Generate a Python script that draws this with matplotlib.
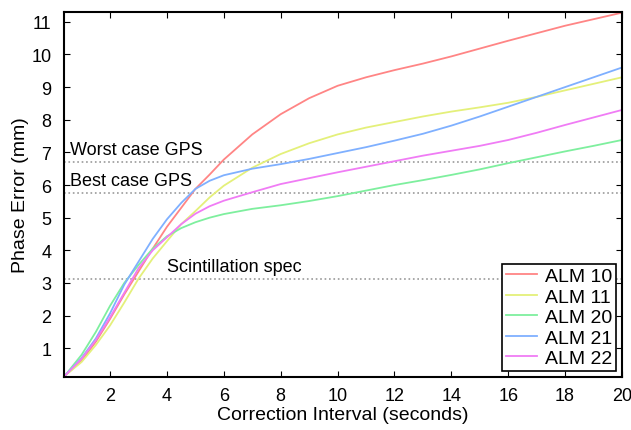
import numpy as np
import matplotlib.pyplot as plt

plt.rcParams['font.family'] = ['Liberation Sans', 'DejaVu Sans']

# correction interval (s)
x = [0.4, 1, 1.5, 2, 2.5, 3, 3.5, 4, 4.5, 5, 5.5, 6, 7, 8, 9, 10,
     11, 12, 13, 14, 15, 16, 17, 18, 19, 20]

alm10 = [0.15, 0.62, 1.2, 1.9, 2.65, 3.35, 4.05, 4.72, 5.3, 5.88, 6.32, 6.78,
         7.55, 8.17, 8.66, 9.04, 9.3, 9.52, 9.72, 9.94, 10.18, 10.42, 10.65, 10.88,
         11.08, 11.28]
alm11 = [0.15, 0.58, 1.1, 1.7, 2.4, 3.13, 3.75, 4.28, 4.8, 5.2, 5.62, 5.98,
         6.53, 6.95, 7.28, 7.55, 7.76, 7.93, 8.1, 8.25, 8.38, 8.52, 8.7, 8.9,
         9.1, 9.3]
alm20 = [0.15, 0.8, 1.5, 2.3, 3.0, 3.55, 4.05, 4.43, 4.68, 4.86, 5.0, 5.11,
         5.27, 5.38, 5.51, 5.66, 5.83, 6.0, 6.15, 6.31, 6.48, 6.67, 6.85, 7.03,
         7.2, 7.38]
alm21 = [0.15, 0.7, 1.3, 2.07, 2.95, 3.65, 4.35, 4.95, 5.45, 5.88, 6.13, 6.3,
         6.5, 6.64, 6.8, 6.98, 7.16, 7.36, 7.57, 7.82, 8.1, 8.4, 8.7, 9.0,
         9.3, 9.6]
alm22 = [0.15, 0.68, 1.25, 1.95, 2.7, 3.45, 4.0, 4.4, 4.8, 5.12, 5.35, 5.52,
         5.78, 6.03, 6.21, 6.39, 6.56, 6.73, 6.9, 7.05, 7.2, 7.38, 7.6, 7.84,
         8.07, 8.3]

series = [('ALM 10', alm10, '#ff8585'),
          ('ALM 11', alm11, '#e4f07a'),
          ('ALM 20', alm20, '#7eef9e'),
          ('ALM 21', alm21, '#7fb0ff'),
          ('ALM 22', alm22, '#f07cf5')]

# reference levels
refs = [('Worst case GPS', 6.7, 0.6),
        ('Best case GPS', 5.75, 0.6),
        ('Scintillation spec', 3.11, 4.0)]

fig = plt.figure(figsize=(6.31, 4.31), dpi=100)
ax = fig.add_axes([0.1014, 0.123, 0.8843, 0.8468])

for name, y, c in series:
    ax.plot(x, y, color=c, lw=1.3, label=name)

for txt, yv, xt in refs:
    ax.axhline(yv, color='#999999', ls=':', lw=1.2, zorder=0)
    ax.text(xt, yv + 0.12, txt, fontsize=13, va='bottom', ha='left')

ax.set_xlim(0.38, 20)
ax.set_ylim(0.12, 11.3)
ax.set_xticks(range(2, 21, 2))
ax.set_yticks(range(1, 12))
ax.tick_params(direction='in', top=True, right=True, labelsize=13, length=4)
ax.tick_params(axis='x', pad=7)
ax.tick_params(axis='y', pad=9)
for s in ax.spines.values():
    s.set_linewidth(1.5)

ax.set_xlabel('Correction Interval (seconds)', fontsize=14, labelpad=2)
ax.set_ylabel('Phase Error (mm)', fontsize=14, labelpad=2)

leg = ax.legend(loc='lower right', fontsize=14, fancybox=False, framealpha=1,
                edgecolor='black', handlelength=1.6, labelspacing=0.15,
                borderaxespad=0.3, borderpad=0.2, handletextpad=0.4)
leg.get_frame().set_linewidth(1.2)

fig.savefig('out.png', dpi=100)
